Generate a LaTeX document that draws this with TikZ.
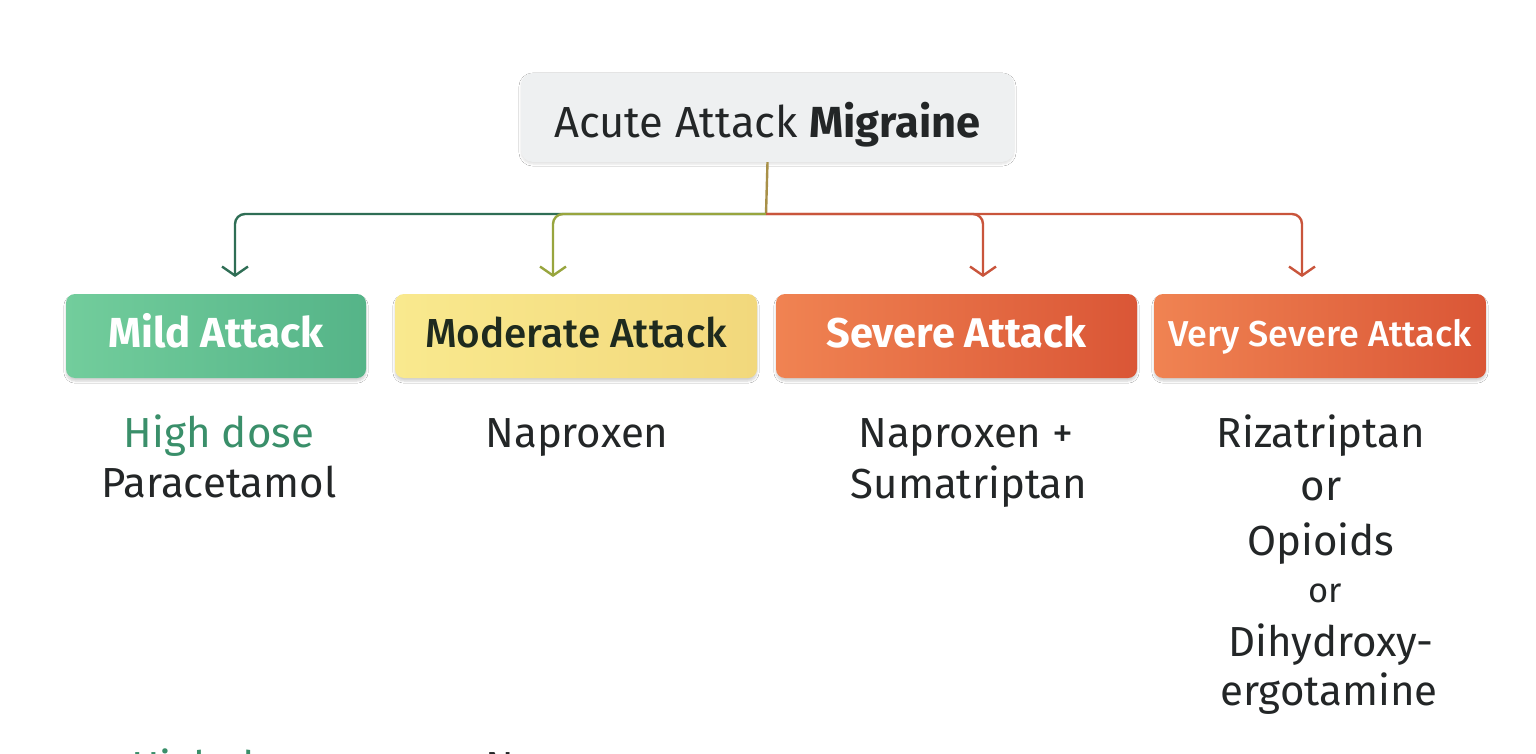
\documentclass[tikz,border=0pt]{standalone}
\usepackage{fontspec}
\setmainfont{Fira Sans}
\newfontfamily\firamed{Fira Sans Medium}
\usetikzlibrary{arrows.meta,shadows.blur}
\definecolor{titlefill}{HTML}{EEF0F1}
\definecolor{txt}{HTML}{232627}
\definecolor{dkgreen}{HTML}{2F6E55}
\definecolor{olive}{HTML}{98A53E}
\definecolor{trunk}{HTML}{A89048}
\definecolor{redbr}{HTML}{C9553C}
\definecolor{greenA}{HTML}{72CD9C}
\definecolor{greenB}{HTML}{55B488}
\definecolor{yelA}{HTML}{F9E98E}
\definecolor{yelB}{HTML}{F2D87C}
\definecolor{orA}{HTML}{F08352}
\definecolor{orB}{HTML}{DA5636}
\definecolor{dosegreen}{HTML}{3A8F6A}
\definecolor{modtxt}{HTML}{1E2A1E}
\tikzset{
  boxbase/.style={rectangle, rounded corners=9pt, minimum height=84pt, inner sep=0pt,
    text depth=0pt, text height=22pt,
    blur shadow={shadow xshift=0pt, shadow yshift=-3pt, shadow blur steps=6, shadow opacity=18}},
  conn/.style={line width=2.4pt, rounded corners=10pt, -{Straight Barb[length=9pt,width=26pt,line width=2.4pt]}},
  drug/.style={anchor=base, text=txt, font=\fontsize{42}{42}\selectfont, inner sep=0pt},
}
\begin{document}
\begin{tikzpicture}[x=1pt,y=-1pt]
\useasboundingbox (0,0) rectangle (1536,754);
\fill[white] (0,0) rectangle (1536,754);
% title
\node[rectangle, rounded corners=12pt, fill=titlefill, minimum width=493pt, minimum height=89pt,
  inner sep=0pt, text depth=0pt, text height=41pt,
  blur shadow={shadow xshift=0pt, shadow yshift=-2pt, shadow blur steps=6, shadow opacity=12},
  font=\fontsize{43.5}{43.5}\selectfont, text=txt] (title) at (767.5,117.5) {Acute Attack \textbf{Migraine}};
% boxes
\node[boxbase, minimum width=300pt, left color=greenA, right color=greenB, text=white,
  font=\fontsize{42}{42}\bfseries] (mild) at (216,336) {Mild Attack};
\node[boxbase, minimum width=362pt, left color=yelA, right color=yelB, text=modtxt,
  font=\fontsize{40.5}{40.5}\firamed] (moderate) at (576,336) {Moderate Attack};
\node[boxbase, minimum width=361pt, left color=orA, right color=orB, text=white,
  font=\fontsize{41.5}{41.5}\bfseries] (severe) at (956.5,336) {Severe Attack};
\node[boxbase, minimum width=332pt, left color=orA, right color=orB, text=white,
  font=\fontsize{36}{36}\firamed, text height=20pt] (vsevere) at (1320,336) {Very Severe Attack};
% connector points
\coordinate (j) at (766,214);
\coordinate (e1) at (235,277);
\coordinate (e2) at (553,277);
\coordinate (e3) at (983,277);
\coordinate (e4) at (1302,277);
\draw[trunk, line width=2.4pt] (title.south) -- (j);
\draw[conn, dkgreen] (j) -| (e1);
\draw[conn, olive] (j) -| (e2);
\draw[conn, redbr] (j) -| (e4);
\draw[conn, redbr] (j) -| (e3);
% drugs
\node[drug, text=dosegreen] (d1a) at (219,447) {High dose};
\node[drug] (d1b) at (219,497) {Paracetamol};
\node[drug] (d2) at (577,447) {Naproxen};
\node[drug] (d3a) at (966,447) {Naproxen +};
\node[drug] (d3b) at (969,498) {Sumatriptan};
\node[drug] (d4a) at (1321,447) {Rizatriptan};
\node[drug] (d4b) at (1321,500) {or};
\node[drug] (d4c) at (1321,555) {Opioids};
\node[drug, font=\fontsize{34.5}{34.5}\selectfont] (d4d) at (1325,602) {or};
\node[drug] (d4e) at (1331,656) {Dihydroxy-};
\node[drug] (d4f) at (1329,705) {ergotamine};
% cut-off repeats at bottom edge
\node[drug, text=dosegreen, anchor=base west] (r1) at (131,781) {High dose};
\node[drug, anchor=base west] (r2) at (485,781) {Naproxen};
\end{tikzpicture}
\end{document}
